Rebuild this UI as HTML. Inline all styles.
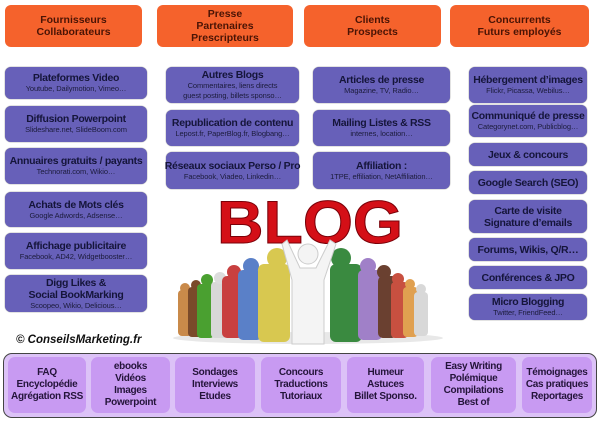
<!DOCTYPE html>
<html><head><meta charset="utf-8"><style>
body{margin:0;width:600px;height:421px;background:#fff;position:relative;overflow:hidden;font-family:"Liberation Sans",sans-serif;font-weight:bold}
.o{position:absolute;background:#f5622c;border-radius:6px;color:#4a1405;font-size:10.5px;line-height:12px;text-align:center;display:flex;align-items:center;justify-content:center;top:5px;height:42px;white-space:nowrap}
.p{position:absolute;background:#6760b9;border-radius:6px;color:#15153a;text-align:center;display:flex;flex-direction:column;justify-content:center;align-items:center;box-shadow:0 0 1px #444;white-space:nowrap;overflow:visible}
.p b{font-size:10.5px;line-height:12px;letter-spacing:-0.3px}
.p i{font-style:normal;font-weight:normal;font-size:7.5px;line-height:10px;color:#1c1c3c;letter-spacing:-0.1px}
.c{position:absolute;top:353px;left:3px;width:592px;height:63px;border:1px solid #444;border-radius:9px;background:#dcc2f7}
.q{position:absolute;top:357px;height:56px;background:#c89af2;border-radius:7px;color:#24143a;font-size:10px;line-height:12px;text-align:center;display:flex;align-items:center;justify-content:center;white-space:nowrap;letter-spacing:-0.3px}
</style></head><body>
<div class="o" style="left:5px;width:137px">Fournisseurs<br>Collaborateurs</div>
<div class="o" style="left:157px;width:136px">Presse<br>Partenaires<br>Prescripteurs</div>
<div class="o" style="left:304px;width:137px">Clients<br>Prospects</div>
<div class="o" style="left:450px;width:139px">Concurrents<br>Futurs employés</div>

<div class="p" style="left:5px;top:67px;width:142px;height:32px"><b>Plateformes Video</b><i>Youtube, Dailymotion, Vimeo…</i></div>
<div class="p" style="left:5px;top:106px;width:142px;height:36px"><b>Diffusion Powerpoint</b><i>Slideshare.net, SlideBoom.com</i></div>
<div class="p" style="left:5px;top:148px;width:142px;height:36px"><b>Annuaires gratuits / payants</b><i>Technorati.com, Wikio…</i></div>
<div class="p" style="left:5px;top:192px;width:142px;height:35px"><b>Achats de Mots clés</b><i>Google Adwords, Adsense…</i></div>
<div class="p" style="left:5px;top:233px;width:142px;height:36px"><b>Affichage publicitaire</b><i>Facebook, AD42, Widgetbooster…</i></div>
<div class="p" style="left:5px;top:275px;width:142px;height:37px"><b>Digg Likes &amp;<br>Social BookMarking</b><i>Scoopeo, Wikio, Delicious…</i></div>

<div class="p" style="left:166px;top:67px;width:133px;height:36px"><b>Autres Blogs</b><i>Commentaires, liens directs<br>guest posting, billets sponso…</i></div>
<div class="p" style="left:166px;top:110px;width:133px;height:36px"><b>Republication de contenu</b><i>Lepost.fr, PaperBlog.fr, Blogbang…</i></div>
<div class="p" style="left:166px;top:152px;width:133px;height:37px"><b>Réseaux sociaux Perso / Pro</b><i>Facebook, Viadeo, Linkedin…</i></div>

<div class="p" style="left:313px;top:67px;width:137px;height:36px"><b>Articles de presse</b><i>Magazine, TV, Radio…</i></div>
<div class="p" style="left:313px;top:110px;width:137px;height:36px"><b>Mailing Listes &amp; RSS</b><i>internes, location…</i></div>
<div class="p" style="left:313px;top:152px;width:137px;height:37px"><b>Affiliation :</b><i>1TPE, effiliation, NetAffiliation…</i></div>

<div class="p" style="left:469px;top:67px;width:118px;height:36px"><b>Hébergement d’images</b><i>Flickr, Picassa, Webilus…</i></div>
<div class="p" style="left:469px;top:105px;width:118px;height:32px"><b>Communiqué de presse</b><i>Categorynet.com, Publicblog…</i></div>
<div class="p" style="left:469px;top:143px;width:118px;height:23px"><b>Jeux &amp; concours</b></div>
<div class="p" style="left:469px;top:171px;width:118px;height:23px"><b>Google Search (SEO)</b></div>
<div class="p" style="left:469px;top:200px;width:118px;height:33px"><b>Carte de visite<br>Signature d’emails</b></div>
<div class="p" style="left:469px;top:238px;width:118px;height:23px"><b>Forums, Wikis, Q/R…</b></div>
<div class="p" style="left:469px;top:266px;width:118px;height:23px"><b>Conférences &amp; JPO</b></div>
<div class="p" style="left:469px;top:294px;width:118px;height:26px"><b>Micro Blogging</b><i>Twitter, FriendFeed…</i></div>

<svg style="position:absolute;left:0;top:0" width="600" height="421">
<text x="310" y="243" text-anchor="middle" font-family="Liberation Sans" font-weight="bold" font-size="60" fill="#d40f17" stroke="#7a0008" stroke-width="1" textLength="186" lengthAdjust="spacingAndGlyphs">BLOG</text>
<ellipse cx="308" cy="338" rx="135" ry="6" fill="#e8e8e8"/>
<g>
<rect x="178" y="290" width="14" height="46" rx="4" fill="#c98a4a"/><circle cx="185" cy="288" r="5" fill="#c98a4a"/>
<rect x="188" y="287" width="14" height="50" rx="4" fill="#7a4a2a"/><circle cx="196" cy="285" r="5" fill="#7a4a2a"/>
<rect x="197" y="284" width="17" height="54" rx="4" fill="#4aa030"/><circle cx="207" cy="280" r="6" fill="#4aa030"/>
<rect x="211" y="282" width="16" height="56" rx="4" fill="#d8d8d8"/><circle cx="220" cy="278" r="6" fill="#dcdcdc"/>
<rect x="222" y="276" width="21" height="62" rx="5" fill="#c84040"/><circle cx="234" cy="272" r="7" fill="#c84040"/>
<rect x="238" y="270" width="24" height="70" rx="5" fill="#5a80c8"/><circle cx="251" cy="266" r="8" fill="#5a80c8"/>
<rect x="258" y="264" width="32" height="78" rx="6" fill="#d8c850"/><circle cx="277" cy="258" r="10" fill="#d8c850"/>
<rect x="330" y="264" width="32" height="78" rx="6" fill="#3a8a40"/><circle cx="341" cy="258" r="10" fill="#3a8a40"/>
<rect x="358" y="270" width="24" height="70" rx="5" fill="#a080c8"/><circle cx="368" cy="266" r="8" fill="#a080c8"/>
<rect x="378" y="276" width="19" height="62" rx="5" fill="#6a4030"/><circle cx="384" cy="272" r="7" fill="#6a4030"/>
<rect x="391" y="282" width="17" height="56" rx="4" fill="#c85040"/><circle cx="398" cy="279" r="6" fill="#c85040"/>
<rect x="403" y="287" width="15" height="50" rx="4" fill="#e0a050"/><circle cx="410" cy="284" r="5" fill="#e0a050"/>
<rect x="414" y="292" width="14" height="44" rx="4" fill="#d8d8d8"/><circle cx="421" cy="289" r="5" fill="#d8d8d8"/>
<path d="M287 240 L300 268 L316 268 L330 240 L336 244 L324 280 L324 344 L292 344 L292 280 L282 244 Z" fill="#f4f4f4" stroke="#ccc"/>
<circle cx="308" cy="254" r="10" fill="#f4f4f4" stroke="#ccc"/>
</g>
<text x="16" y="343" font-family="Liberation Sans" font-weight="bold" font-style="italic" font-size="11.5" fill="#111">© ConseilsMarketing.fr</text>
</svg>

<div class="c"></div>
<div class="q" style="left:8px;width:78px">FAQ<br>Encyclopédie<br>Agrégation RSS</div>
<div class="q" style="left:91px;width:79px">ebooks<br>Vidéos<br>Images<br>Powerpoint</div>
<div class="q" style="left:175px;width:80px">Sondages<br>Interviews<br>Etudes</div>
<div class="q" style="left:261px;width:80px">Concours<br>Traductions<br>Tutoriaux</div>
<div class="q" style="left:347px;width:77px">Humeur<br>Astuces<br>Billet Sponso.</div>
<div class="q" style="left:431px;width:85px">Easy Writing<br>Polémique<br>Compilations<br>Best of</div>
<div class="q" style="left:522px;width:70px">Témoignages<br>Cas pratiques<br>Reportages</div>
</body></html>
